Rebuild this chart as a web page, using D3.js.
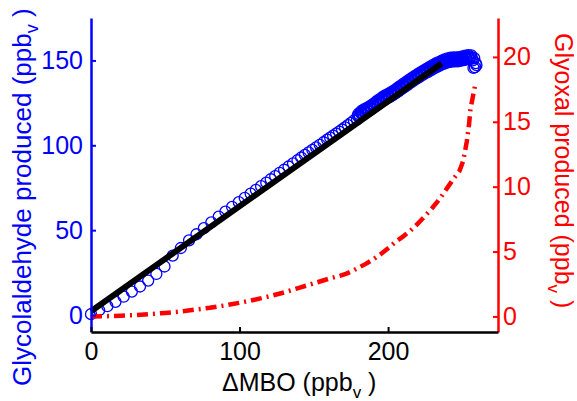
<!DOCTYPE html>
<html lang="en">
<head>
    <meta charset="utf-8" />
    <title>Glycolaldehyde and glyoxal vs MBO</title>
    <script src="https://d3js.org/d3.v7.min.js"></script>
    <style>
        body { margin: 0; background: #fff; }
        text { font-family: "Liberation Sans", Arial, sans-serif; }
    </style>
</head>
<body>
<script>
    var w = 577;
    var h = 401;

    // blue circles: glycolaldehyde vs delta MBO
    var glyX = [0, 5.5, 11, 16.5, 22, 27.5, 33, 38.5, 44, 49.5, 55, 60.5, 66, 71, 76, 81, 86, 90.5, 95, 99.5,
        103.5, 107.5, 111, 114.5, 118, 121, 124, 127, 130, 133, 136, 139, 141.5, 144, 146.5, 149, 151.5, 154, 156.5, 159,
        161, 163, 165, 167, 169, 171, 173, 175, 177,
        179, 180, 181, 182, 183, 184, 185, 186, 187, 188, 189, 190, 191, 192, 193, 194, 195, 196, 197, 198, 199,
        200, 201, 202, 203, 204, 205, 206, 207, 208, 209, 210, 211, 212, 213, 214, 215, 216, 217, 218, 219,
        220, 221, 222, 223, 224, 225, 226, 227, 228, 229, 230, 231, 232, 233, 234, 235, 236, 237, 238, 239,
        240, 241, 242, 243, 244, 245, 246, 247, 248, 249, 250, 251, 252, 253, 254, 255, 256, 257, 258,
        259, 259.5, 258.5, 257.5];
    var glyY = [0.5, 2.8, 5.2, 7.8, 10.8, 13.8, 16.8, 20.3, 24.2, 28.6, 35, 39.5, 44, 47.6, 51.2, 54.6, 58, 60.9, 63.7, 66.5,
        69, 71.5, 73.7, 75.9, 78, 80, 81.8, 83.7, 85.6, 87.5, 89.3, 91.2, 92.8, 94.3, 95.8, 97.3, 98.8, 100.3, 101.8, 103.3,
        104.5, 105.7, 106.9, 108.1, 109.3, 110.6, 111.9, 113.2, 114.6,
        115.2, 118.6, 117.1, 120.2, 118.4, 121.3, 119.3, 122.2, 120.3, 123.2, 121.4, 124.4, 122.7, 125.8, 124.0, 127.1, 125.3, 128.3, 126.5, 129.4, 127.5,
        130.3, 128.4, 131.3, 129.4, 132.4, 130.6, 133.6, 131.8, 134.9, 133.1, 136.1, 134.3, 137.3, 135.5, 138.5, 136.7, 139.7, 137.9, 140.9, 139.1,
        142.0, 140.2, 143.1, 141.3, 144.2, 142.3, 145.2, 143.3, 146.2, 144.3, 147.2, 145.3, 148.2, 146.2, 149.0, 147.0, 149.8, 147.8, 150.6, 148.5,
        151.2, 149.0, 151.6, 149.3, 151.8, 149.4, 151.8, 149.5, 152.0, 149.8, 152.4, 150.2, 152.8, 150.6, 153.1, 150.8, 153.0, 150.0, 151.4,
        148.4, 147.2, 146.0, 145.6];

    // the dense end of the run: in-between samples
    var glyXb = [179.5, 180.5, 181.5, 182.5, 183.5, 184.5, 185.5, 186.5, 187.5, 188.5, 189.5, 190.5, 191.5, 192.5, 193.5, 194.5,
        195.5, 196.5, 197.5, 198.5, 199.5, 200.5, 201.5, 202.5, 203.5, 204.5, 205.5, 206.5, 207.5, 208.5, 209.5, 210.5,
        211.5, 212.5, 213.5, 214.5, 215.5, 216.5, 217.5, 218.5, 219.5, 220.5, 221.5, 222.5, 223.5, 224.5, 225.5, 226.5,
        227.5, 228.5, 229.5, 230.5, 231.5, 232.5, 233.5, 234.5, 235.5, 236.5, 237.5, 238.5, 239.5, 240.5, 241.5, 242.5,
        243.5, 244.5, 245.5, 246.5, 247.5, 248.5, 249.5, 250.5, 251.5, 252.5, 253.5, 254.5, 255.5, 256.5];
    var glyYb = [117.3, 117.45, 119.05, 118.9, 120.25, 119.9, 121.15, 120.85, 122.15, 121.9, 123.3, 123.15, 124.65, 124.5, 125.95, 125.8,
        127.2, 127.0, 128.35, 128.05, 129.3, 128.95, 130.25, 129.95, 131.3, 131.1, 132.5, 132.3, 133.75, 133.6, 135.0, 134.8,
        136.2, 136.0, 137.4, 137.2, 138.6, 138.4, 139.8, 139.6, 140.95, 140.7, 142.05, 141.8, 143.15, 142.85, 144.15, 143.85,
        145.15, 144.85, 146.15, 145.85, 147.15, 146.8, 148.0, 147.6, 148.8, 148.4, 149.6, 149.15, 150.25, 149.7, 150.7, 150.05,
        150.95, 150.2, 151.0, 150.25, 151.15, 150.5, 151.5, 150.9, 151.9, 151.3, 152.25, 151.55, 152.3, 151.1];

    // black linear fit
    var fitX = [0, 236];
    var fitY = [2.2, 148.2];

    // red dash-dot: glyoxal vs delta MBO (right axis)
    var glxX = [0, 10, 20, 30, 40, 50, 60, 70, 80, 90, 100, 110, 120, 130, 140, 150, 160, 168, 172, 175,
        180, 185, 190, 195, 200, 205, 210, 215, 220, 225, 230, 235, 238, 241, 244, 246, 248, 250,
        251.5, 253, 254.5, 255.4, 256.5, 257.5, 258.8];
    var glxY = [0, 0.02, 0.06, 0.1, 0.18, 0.27, 0.38, 0.52, 0.67, 0.85, 1.05, 1.28, 1.55, 1.85, 2.2, 2.55, 2.9, 3.15, 3.3, 3.45,
        3.75, 4.05, 4.4, 4.8, 5.25, 5.75, 6.15, 6.6, 7.15, 7.75, 8.4, 9.1, 9.6, 10.1, 10.6, 10.9, 11.2, 11.8,
        12.5, 13.5, 14.8, 15.9, 16.6, 17.2, 17.9];

    var xTicks = [0, 100, 200];
    var leftTicks = [0, 50, 100, 150];
    var rightTicks = [0, 5, 10, 15, 20];

    // plot box (window.top is reserved, so other names)
    var pLeft = 91, pRight = 498, pTop = 18, pBottom = 332;

    var xScale = d3.scaleLinear().domain([0, 274]).range([pLeft, pRight]);
    var yLeft = d3.scaleLinear().domain([-10, 175]).range([pBottom, pTop]);
    var yRight = d3.scaleLinear().domain([-1.2, 23]).range([pBottom, pTop]);

    var svg = d3.select("body")
        .append("svg")
        .attr("width", w)
        .attr("height", h);

    var allX = glyX.concat(glyXb);
    var allY = glyY.concat(glyYb);

    // blue circles
    svg.append("g")
        .selectAll("circle")
        .data(d3.range(allX.length))
        .enter()
        .append("circle")
        .attr("cx", function(i) { return xScale(allX[i]); })
        .attr("cy", function(i) { return yLeft(allY[i]); })
        .attr("r", 5.5)
        .attr("fill", "none")
        .attr("stroke", "#0000ff")
        .attr("stroke-width", 1.3);

    // fit line
    var fitLine = d3.line()
        .x(function(i) { return xScale(fitX[i]); })
        .y(function(i) { return yLeft(fitY[i]); });
    svg.append("path")
        .attr("d", fitLine(d3.range(fitX.length)))
        .attr("fill", "none")
        .attr("stroke", "#000")
        .attr("stroke-width", 6);

    // glyoxal
    var glxLine = d3.line()
        .x(function(i) { return xScale(glxX[i]); })
        .y(function(i) { return yRight(glxY[i]); });
    svg.append("path")
        .attr("d", glxLine(d3.range(glxX.length)))
        .attr("fill", "none")
        .attr("stroke", "#ff0000")
        .attr("stroke-width", 4.5)
        .attr("stroke-dasharray", "11,5,2,5");

    // axes
    function styleAxis(g, color) {
        g.select(".domain").attr("stroke", color).attr("stroke-width", 2.5);
        g.selectAll(".tick line").attr("stroke", color).attr("stroke-width", 2);
        g.selectAll(".tick text").attr("fill", color).attr("font-size", "25px")
            .attr("font-family", "'Liberation Sans', Arial, sans-serif");
    }

    var gl = svg.append("g")
        .attr("transform", "translate(" + pLeft + ",0)")
        .call(d3.axisLeft(yLeft).tickValues(leftTicks).tickSize(-5).tickSizeOuter(0).tickPadding(8));
    styleAxis(gl, "#0000ff");

    var gr = svg.append("g")
        .attr("transform", "translate(" + pRight + ",0)")
        .call(d3.axisRight(yRight).tickValues(rightTicks).tickSize(-5).tickSizeOuter(0).tickPadding(5));
    styleAxis(gr, "#ff0000");

    var gb = svg.append("g")
        .attr("transform", "translate(0," + pBottom + ")")
        .call(d3.axisBottom(xScale).tickValues(xTicks).tickSize(-5).tickSizeOuter(0).tickPadding(10));
    styleAxis(gb, "#000");

    // axis titles
    var xt = svg.append("text")
        .attr("x", 222)
        .attr("y", 391)
        .attr("font-size", "25px")
        .attr("fill", "#000");
    xt.append("tspan").text("\u0394MBO (ppb");
    xt.append("tspan").attr("font-size", "17px").attr("dy", 7).text("v");
    xt.append("tspan").attr("dy", -7).text(" )");

    var lt = svg.append("text")
        .attr("transform", "translate(31,386) rotate(-90)")
        .attr("font-size", "26px")
        .attr("fill", "#0000ff");
    lt.append("tspan").text("Glycolaldehyde produced (ppb");
    lt.append("tspan").attr("font-size", "18px").attr("dy", 7).text("v");
    lt.append("tspan").attr("dy", -7).text(" )");

    var rt = svg.append("text")
        .attr("transform", "translate(555,33) rotate(90)")
        .attr("font-size", "25px")
        .attr("fill", "#ff0000");
    rt.append("tspan").text("Glyoxal produced (ppb");
    rt.append("tspan").attr("font-size", "17px").attr("dy", 7).text("v");
    rt.append("tspan").attr("dy", -7).text(" )");
</script>
</body>
</html>
